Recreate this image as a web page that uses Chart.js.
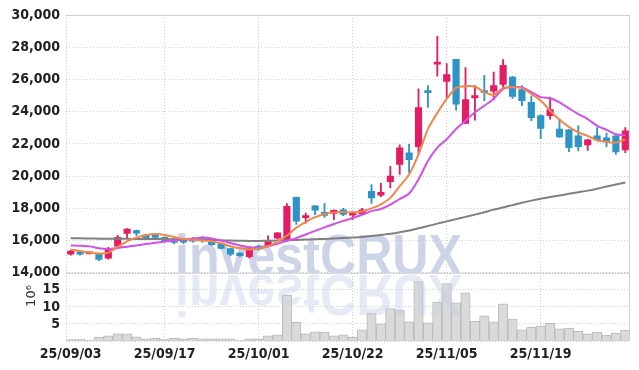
<!DOCTYPE html>
<html>
<head>
<meta charset="utf-8">
<script src="https://cdn.jsdelivr.net/npm/chart.js@4.4.1/dist/chart.umd.min.js"></script>
<style>
html, body { margin: 0; padding: 0; background: #fff; }
#wrap { width: 639px; height: 370px; }
</style>
</head>
<body>
<div id="wrap"><canvas id="priceChart" width="639" height="370"></canvas></div>
<script>
// Trading days (yy/mm/dd)
const dates = [
  '25/09/03','25/09/04','25/09/05','25/09/08','25/09/09','25/09/10','25/09/11','25/09/12','25/09/15','25/09/16',
  '25/09/17','25/09/18','25/09/19','25/09/22','25/09/23','25/09/24','25/09/25','25/09/26','25/09/29','25/09/30',
  '25/10/01','25/10/02','25/10/10','25/10/13','25/10/14','25/10/15','25/10/16','25/10/17','25/10/20','25/10/21',
  '25/10/22','25/10/23','25/10/24','25/10/27','25/10/28','25/10/29','25/10/30','25/10/31','25/11/03','25/11/04',
  '25/11/05','25/11/06','25/11/07','25/11/10','25/11/11','25/11/12','25/11/13','25/11/14','25/11/17','25/11/18',
  '25/11/19','25/11/20','25/11/21','25/11/24','25/11/25','25/11/26','25/11/27','25/11/28','25/12/01','25/12/02'
];

const openPrices = [
  15150,15300,15180,15150,14900,15650,16450,16620,16350,16250,
  16200,16100,16080,16100,16050,16000,15800,15500,15230,15000,
  15650,15700,16150,16000,18680,17420,18150,17760,17680,17900,
  17580,17650,19050,18820,19650,20730,21440,21830,25250,26950,
  25880,27250,23270,24850,25250,25270,25690,26150,25370,24580,
  23750,23750,22920,22875,22500,21940,22500,22375,22500,21620
];
const highPrices = [
  15400,15350,15280,15200,15580,16330,16750,16650,16380,16350,
  16230,16150,16120,16200,16250,16050,15830,15530,15260,15620,
  15720,16300,16500,18300,18700,17700,18170,18290,17900,18000,
  17790,18000,19480,19550,20600,21940,21980,25420,25620,28670,
  26980,27250,26730,25620,26250,26460,27230,26200,25620,24960,
  23800,24900,23540,22900,23120,22280,23020,22670,22520,23020
];
const lowPrices = [
  15100,15100,15150,14750,14850,15550,16180,16300,16150,16120,
  15900,15800,15800,15900,15900,15700,15480,15050,15020,14900,
  15400,15650,16100,15950,17000,17080,17600,17440,17300,17550,
  17290,17600,18300,18730,19270,20100,20210,21350,24270,26210,
  24830,24100,23270,23480,24690,24750,25520,24830,24375,23440,
  22330,23540,22400,21520,21560,21600,22190,21830,21350,21460
];
const closePrices = [
  15350,15150,15220,14830,15420,16200,16720,16460,16180,16200,
  15950,15880,15900,15960,16000,15750,15520,15150,15060,15500,
  15480,16000,16480,18130,17200,17480,17880,17560,17870,17620,
  17620,17900,18650,18990,20000,21750,21020,24250,25180,27050,
  26300,24460,24750,25000,25180,25620,26870,24940,24690,23625,
  22960,24125,22440,21770,21830,22250,22250,22190,21500,22810
];

// Moving averages
const ma5 = [
  15450,15350,15250,15200,15250,15600,15950,16180,16330,16400,
  16350,16220,16100,16050,16000,15950,15830,15650,15520,15450,
  15500,15650,15950,16300,16800,17150,17450,17650,17750,17780,
  17750,17800,18000,18250,18650,19375,20100,21350,22920,23920,
  24790,25480,25580,25560,25210,25040,25480,25520,25460,25100,
  24690,24060,23500,23060,22710,22500,22230,22125,22085,22270
];
const ma20 = [
  15700,15680,15640,15520,15480,15540,15620,15700,15780,15860,
  15940,16010,16070,16130,16190,16130,16000,15850,15700,15580,
  15560,15640,15800,15980,16150,16380,16600,16820,17030,17220,
  17400,17600,17830,17960,18230,18580,18920,19790,20940,21770,
  22290,22920,23440,23960,24375,24790,25420,25520,25520,25210,
  24900,24830,24580,24210,23850,23540,23125,22875,22600,22540
];
const ma60 = [
  16150,16140,16130,16120,16110,16110,16110,16100,16100,16100,
  16090,16080,16070,16060,16050,16040,16020,16000,15990,15980,
  15980,15990,16000,16020,16040,16060,16080,16100,16130,16160,
  16190,16220,16280,16350,16420,16520,16620,16760,16900,17050,
  17190,17330,17470,17610,17760,17920,18050,18200,18350,18480,
  18600,18700,18800,18900,19000,19100,19220,19350,19480,19610
];

// Volume in millions
const volumes = [
  0.4,0.5,0.3,1.1,1.5,2.1,2.1,1.2,0.6,0.8,
  0.5,0.8,0.6,0.8,0.6,0.6,0.6,0.6,0.2,0.6,
  0.6,1.5,1.8,13.5,5.5,2.1,2.7,2.6,1.5,1.8,
  1.1,3.3,8.2,5.0,9.5,9.1,5.6,17.4,5.3,11.4,
  16.8,11.2,14.1,5.8,7.4,5.6,10.9,6.4,3.3,4.1,
  4.4,5.2,3.6,3.8,2.8,2.1,2.6,1.7,2.3,3.2
];

const UP = '#e31c64';
const DOWN = '#2e94c6';
const GRID = 'rgba(165,173,203,0.6)';

// pick a narrow bold face if one is installed
function pickTickFont() {
  const c = document.createElement('canvas').getContext('2d');
  const probe = '30,000 25/09/03';
  c.font = 'bold 16px monospace';
  const base = c.measureText(probe).width;
  const candidates = [
    { family: '"Liberation Sans Narrow"', style: 'normal', size: 15 },
    { family: '"DejaVu Sans Condensed"', style: 'normal', size: 14 },
    { family: '"DejaVu Sans"', style: 'condensed', size: 14 }
  ];
  for (const f of candidates) {
    c.font = (f.style === 'normal' ? '' : f.style + ' ') + 'bold ' + f.size + 'px ' + f.family + ', monospace';
    const w = c.measureText(probe).width;
    c.font = 'bold ' + f.size + 'px "DejaVu Sans", monospace';
    const wide = c.measureText(probe).width;
    if (Math.abs(w - base) > 0.5 && w < wide - 5) {
      return { family: f.family + ', sans-serif', size: f.size, weight: 'bold', style: f.style === 'normal' ? undefined : f.style };
    }
  }
  return { family: 'Roboto, sans-serif', size: 14, weight: 'bold' };
}
const tickFont = pickTickFont();

const candleColors = openPrices.map((o, i) => closePrices[i] >= o ? UP : DOWN);
const wicks = lowPrices.map((l, i) => [l, highPrices[i]]);
const bodies = openPrices.map((o, i) => [o, closePrices[i]]);

// Frame, watermark and the 10^6 label
const decorPlugin = {
  id: 'decor',
  beforeDatasetsDraw(chart) {
    const { ctx, chartArea } = chart;
    const y = chart.scales.y;
    ctx.save();
    ctx.beginPath();
    ctx.rect(chartArea.left, chartArea.top, chartArea.right - chartArea.left, y.bottom - chartArea.top);
    ctx.clip();
    ctx.font = 'bold 58px "Liberation Sans", Arial, sans-serif';
    ctx.fillStyle = 'rgba(196,204,228,0.85)';
    ctx.fillText('investCRUX', 175, y.bottom + 2, 287);
    ctx.restore();
  },
  afterDatasetsDraw(chart) {
    const { ctx, chartArea } = chart;
    const y = chart.scales.y;
    const yv = chart.scales.yv;
    // reflection
    ctx.save();
    ctx.beginPath();
    ctx.rect(chartArea.left, yv.top, chartArea.right - chartArea.left, yv.bottom - yv.top);
    ctx.clip();
    ctx.translate(0, 2 * (y.bottom + 2));
    ctx.scale(1, -1);
    ctx.font = 'bold 58px "Liberation Sans", Arial, sans-serif';
    ctx.fillStyle = 'rgba(196,204,228,0.42)';
    ctx.fillText('investCRUX', 175, y.bottom + 2, 287);
    ctx.restore();

    ctx.save();
    ctx.strokeStyle = '#d0d0d6';
    ctx.lineWidth = 1;
    ctx.beginPath();
    ctx.moveTo(chartArea.left, chartArea.top + 0.5);
    ctx.lineTo(chartArea.right, chartArea.top + 0.5);
    ctx.moveTo(chartArea.right - 0.5, chartArea.top);
    ctx.lineTo(chartArea.right - 0.5, chartArea.bottom);
    ctx.moveTo(chartArea.left, y.bottom + 0.5);
    ctx.lineTo(chartArea.right, y.bottom + 0.5);
    ctx.moveTo(chartArea.left, chartArea.bottom - 0.5);
    ctx.lineTo(chartArea.right, chartArea.bottom - 0.5);
    ctx.stroke();
    ctx.setLineDash([1, 2]);
    ctx.strokeStyle = GRID;
    ctx.beginPath();
    ctx.moveTo(chartArea.left + 0.5, chartArea.top);
    ctx.lineTo(chartArea.left + 0.5, chartArea.bottom);
    ctx.stroke();
    ctx.restore();
  },
  afterDraw(chart) {
    const ctx = chart.ctx;
    ctx.save();
    ctx.translate(32, 296);
    ctx.rotate(-Math.PI / 2);
    ctx.textAlign = 'center';
    ctx.textBaseline = 'middle';
    ctx.font = '13px "DejaVu Sans", sans-serif';
    ctx.fillStyle = '#333';
    ctx.fillText('10\u2076', 0, 0);
    ctx.restore();
  }
};

function initPriceChart() {
  const ctx = document.getElementById('priceChart').getContext('2d');
  new Chart(ctx, {
    type: 'bar',
    data: {
      labels: dates,
      datasets: [
        {
          type: 'line', label: 'MA5', data: ma5, yAxisID: 'y',
          borderColor: 'rgb(240,135,75)', borderWidth: 2, pointRadius: 0, tension: 0.25, order: 0
        },
        {
          type: 'line', label: 'MA20', data: ma20, yAxisID: 'y',
          borderColor: 'rgb(210,80,232)', borderWidth: 2, pointRadius: 0, tension: 0.25, order: 1
        },
        {
          type: 'line', label: 'MA60', data: ma60, yAxisID: 'y',
          borderColor: 'rgb(128,128,128)', borderWidth: 2, pointRadius: 0, tension: 0.25, order: 2
        },
        {
          label: 'Body', data: bodies, yAxisID: 'y', grouped: false,
          backgroundColor: candleColors, barThickness: 6.5, minBarLength: 2, order: 3
        },
        {
          label: 'Wick', data: wicks, yAxisID: 'y', grouped: false,
          backgroundColor: candleColors, barThickness: 1.2, order: 4
        },
        {
          label: 'Volume', data: volumes, yAxisID: 'yv', grouped: false,
          backgroundColor: '#dadada', borderColor: '#b9b9b9', borderWidth: 1,
          barPercentage: 1, categoryPercentage: 1, order: 5
        }
      ]
    },
    options: {
      responsive: false,
      animation: false,
      layout: { padding: { top: 15, right: 9, left: 0, bottom: 0 } },
      plugins: { legend: { display: false }, tooltip: { enabled: false } },
      scales: {
        x: {
          offset: true,
          grid: {
            offset: false,
            drawTicks: false,
            color: function(c) { return c.index === 0 ? 'rgba(0,0,0,0)' : GRID; }
          },
          border: { display: false, dash: [1, 2] },
          ticks: {
            autoSkip: false, maxRotation: 0, padding: 5, color: '#222', font: tickFont,
            callback: function(value, index) {
              return index % 10 === 0 ? this.getLabelForValue(value) : null;
            }
          },
          afterFit: function(scale) { scale.height = 29; }
        },
        yv: {
          position: 'left', stack: 'panel', stackWeight: 68, weight: 0,
          min: 0, max: 20,
          grid: { color: GRID, drawTicks: false },
          border: { display: false, dash: [1, 2] },
          ticks: {
            autoSkip: false, stepSize: 5, padding: 6, color: '#222', font: tickFont,
            callback: function(v) { return (v === 0 || v === 20) ? '' : v; }
          },
          afterFit: function(scale) { scale.width = 66; }
        },
        y: {
          position: 'left', stack: 'panel', stackWeight: 257, weight: 1,
          min: 14000, max: 30000,
          grid: { color: GRID, drawTicks: false },
          border: { display: false, dash: [1, 2] },
          ticks: {
            autoSkip: false, stepSize: 2000, padding: 6, color: '#222', font: tickFont,
            callback: function(v) { return v.toLocaleString('en-US'); }
          },
          afterFit: function(scale) { scale.width = 66; }
        }
      }
    },
    plugins: [decorPlugin]
  });
}

document.addEventListener('DOMContentLoaded', function() {
  initPriceChart();
});
</script>
</body>
</html>
